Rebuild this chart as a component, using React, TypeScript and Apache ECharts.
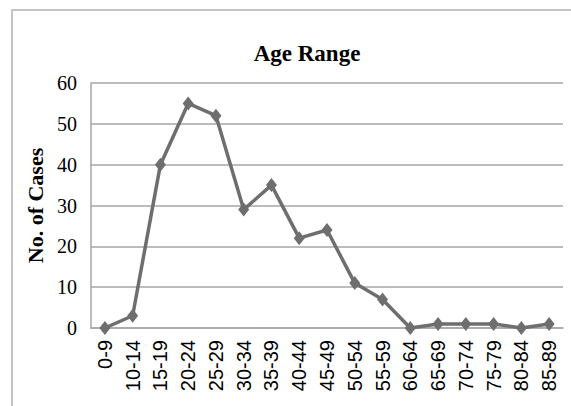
import React, { useEffect, useRef } from "react";
import * as echarts from "echarts";

const categories = ["0-9", "10-14", "15-19", "20-24", "25-29", "30-34", "35-39", "40-44", "45-49", "50-54", "55-59", "60-64", "65-69", "70-74", "75-79", "80-84", "85-89"];
const cases = [0, 3, 40, 55, 52, 29, 35, 22, 24, 11, 7, 0, 1, 1, 1, 0, 1];
const yTicks = { min: 0, max: 60, interval: 10 };

export default function App() {
  const ref = useRef<HTMLDivElement>(null);
  useEffect(() => {
    if (!ref.current) return;
    const chart = echarts.init(ref.current, null, { renderer: "svg" });
    chart.setOption({
      animation: false,
      backgroundColor: "#ffffff",
      title: {
        text: "Age Range",
        left: 302,
        top: 37,
        textAlign: "center",
        textStyle: { fontFamily: "Liberation Serif", fontWeight: "bold", fontSize: 23, color: "#000" },
      },
      graphic: [
        {
          type: "rect",
          shape: { x: 12, y: 10, width: 620, height: 440 },
          style: { fill: "none", stroke: "#c4c4c4", lineWidth: 2 },
          silent: true,
        },
      ],
      grid: { left: 91, top: 83, right: 8, bottom: 78, containLabel: false },
      xAxis: {
        type: "category",
        data: categories,
        boundaryGap: true,
        axisLine: { show: true, lineStyle: { color: "#a6a6a6", width: 1.5 } },
        axisTick: { show: false },
        axisLabel: {
          rotate: 90,
          margin: 12,
          interval: 0,
          fontFamily: "Liberation Sans",
          fontSize: 20,
          color: "#000",
        },
      },
      yAxis: {
        type: "value",
        min: yTicks.min,
        max: yTicks.max,
        interval: yTicks.interval,
        name: "No. of Cases",
        nameLocation: "middle",
        nameGap: 40,
        nameTextStyle: { fontFamily: "Liberation Serif", fontWeight: "bold", fontSize: 22, color: "#000" },
        axisLine: { show: true, lineStyle: { color: "#a6a6a6", width: 1.5 } },
        axisTick: { show: false },
        splitLine: { lineStyle: { color: "#a6a6a6", width: 1.5 } },
        axisLabel: { margin: 14, fontFamily: "Liberation Serif", fontSize: 20, color: "#000" },
      },
      series: [
        {
          type: "line",
          data: cases,
          symbol: "diamond",
          symbolSize: [11, 14],
          lineStyle: { color: "#6e6e6e", width: 3.5 },
          itemStyle: { color: "#6e6e6e" },
        },
      ],
    });
    return () => chart.dispose();
  }, []);
  return <div ref={ref} style={{ position: "absolute", left: 0, top: 0, width: 571, height: 406 }} />;
}
